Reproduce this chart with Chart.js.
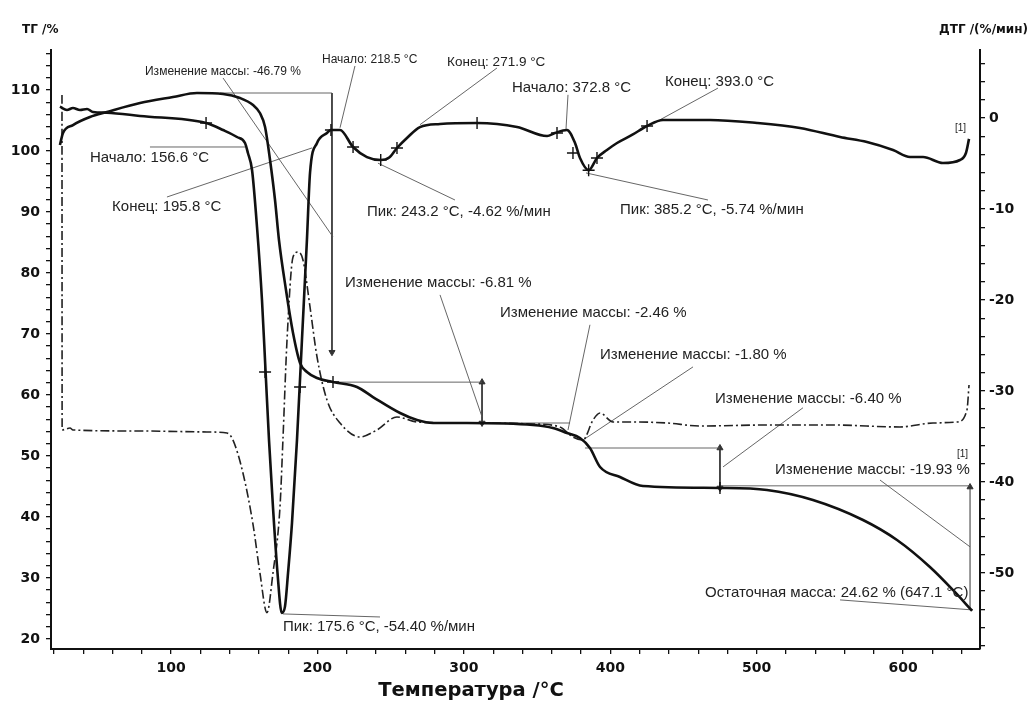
<!DOCTYPE html>
<html lang="ru">
<head>
<meta charset="utf-8">
<title>ТГ / ДТГ</title>
<script src="https://cdn.jsdelivr.net/npm/chart.js@4.4.1/dist/chart.umd.min.js"></script>
<style>
  html, body { margin: 0; padding: 0; background: #fff; }
  #wrap { width: 1031px; height: 702px; }
</style>
</head>
<body>
<div id="wrap"><canvas id="tgChart" width="1031" height="702"></canvas></div>
<script>
// TG curve (left axis, %)
const tgTemp = [24.1, 26.2, 33.0, 44.6, 56.2, 78.8, 101.3, 117.7, 135.5, 147.1, 156.0, 160.7, 164.2, 167.6, 171.0, 173.7, 178.5, 183.3, 188.1, 192.8, 199.7, 210.6, 227.0, 237.9, 256.4, 268.0, 278.9, 302.1, 347.2, 360.8, 370.4, 379.3, 386.1, 393.0, 406.6, 422.3, 474.9, 507.0, 538.4, 572.6, 595.8, 618.3, 634.0, 647.1];
const tgMass = [100.98, 102.94, 104.25, 105.57, 106.39, 107.86, 108.84, 109.5, 109.34, 108.68, 107.53, 106.22, 103.93, 98.52, 91.96, 85.4, 77.2, 70.16, 65.24, 63.77, 62.78, 62.12, 61.3, 59.66, 57.04, 55.89, 55.4, 55.4, 55.07, 54.58, 53.76, 52.94, 51.3, 48.19, 46.55, 45.07, 44.75, 44.42, 42.78, 39.5, 36.22, 31.8, 28.03, 24.62];

// DTG curve (right axis, %/мин)
const dtgTemp = [24.1, 28.9, 33.0, 37.8, 42.6, 46.7, 56.2, 78.8, 123.9, 135.5, 145.0, 150.5, 152.5, 155.3, 158.7, 162.1, 164.5, 166.9, 169.6, 172.7, 175.6, 177.8, 179.9, 182.6, 186.0, 189.4, 192.8, 194.9, 199.7, 206.5, 209.2, 215.4, 224.3, 233.8, 243.2, 249.0, 254.3, 261.1, 270.0, 283.7, 309.0, 336.3, 356.8, 362.2, 370.4, 375.9, 379.3, 385.2, 390.9, 397.7, 404.6, 414.8, 425.1, 436.0, 468.1, 500.2, 529.5, 556.9, 575.3, 593.1, 604.7, 613.6, 627.2, 638.8, 642.9, 645.0];
const dtgRate = [1.24, 0.88, 1.10, 0.88, 0.99, 0.66, 0.58, 0.22, -0.55, -1.32, -2.09, -2.75, -3.85, -5.72, -11.98, -20.0, -27.7, -35.4, -42.75, -50.0, -54.4, -53.7, -50.0, -44.5, -35.4, -24.4, -13.4, -6.05, -2.75, -1.65, -1.32, -1.32, -3.19, -4.3, -4.62, -4.35, -3.3, -2.2, -1.0, -0.66, -0.55, -0.99, -1.98, -1.65, -1.32, -2.75, -4.4, -5.74, -4.4, -3.52, -2.75, -1.87, -0.88, -0.22, -0.22, -0.55, -1.1, -2.09, -2.64, -3.52, -4.29, -4.29, -4.95, -4.62, -3.85, -2.3];

// dash-dot curve (left axis)
const dashTemp = [25.5, 25.6, 31.0, 33.0, 78.8, 124.5, 138.2, 142.3, 149.1, 156.0, 160.7, 165.5, 169.6, 174.4, 176.4, 179.2, 183.3, 186.7, 190.1, 194.9, 199.7, 206.5, 215.4, 229.0, 240.6, 254.3, 268.0, 302.1, 347.2, 365.6, 374.5, 381.3, 388.2, 393.0, 401.8, 415.5, 438.7, 461.2, 507.0, 552.1, 597.8, 620.4, 636.8, 643.6, 645.0];
const dashVal = [109.17, 54.26, 54.58, 54.26, 54.09, 53.93, 53.76, 52.6, 47.2, 38.75, 30.81, 24.3, 30.81, 41.63, 52.6, 69.01, 82.62, 83.43, 82.12, 74.42, 66.22, 59.17, 55.4, 53.11, 54.26, 56.39, 55.57, 55.4, 55.24, 54.75, 53.11, 52.62, 55.89, 57.04, 55.57, 55.57, 55.4, 54.91, 55.07, 55.07, 54.75, 55.4, 55.57, 57.54, 61.63];

// "+" marks
const dtgMarkTemp = [123.9, 209.2, 224.3, 243.2, 254.3, 309.0, 363.6, 374.5, 385.2, 390.9, 425.1];
const dtgMarkRate = [-0.55, -1.32, -3.19, -4.62, -3.3, -0.55, -1.65, -3.85, -5.74, -4.4, -0.88];
const tgMarkTemp = [164.2, 188.1, 210.6, 474.9];
const tgMarkMass = [63.76, 61.3, 62.12, 44.75];

// axis tick labels
const xTickLabels = [100, 200, 300, 400, 500, 600];
const leftTickLabels = [20, 30, 40, 50, 60, 70, 80, 90, 100, 110];
const rightTickLabels = [-50, -40, -30, -20, -10, 0];

// thin leader / construction lines, [t1, m1, t2, m2] in °C and left-axis %
const leaderLines = [
  [133.4, 109.5, 209.9, 109.5],
  [135.5, 111.96, 210.6, 85.9],
  [225.6, 113.93, 215.4, 103.8],
  [322.6, 113.6, 270.0, 104.3],
  [371.1, 109.2, 369.7, 103.4],
  [473.5, 110.3, 433.9, 105.1],
  [293.9, 91.96, 241.3, 98.0],
  [466.7, 91.96, 383.4, 96.4],
  [85.6, 100.65, 150.5, 100.65],
  [97.2, 92.45, 196.3, 100.5],
  [176.4, 24.1, 242.7, 23.6],
  [210.6, 62.1, 312.4, 62.1],
  [283.7, 76.4, 312.4, 56.4],
  [278.9, 55.4, 372.5, 55.4],
  [386.1, 71.5, 371.1, 54.25],
  [456.5, 64.6, 381.3, 52.6],
  [382.7, 51.3, 474.9, 51.3],
  [531.6, 57.9, 477.0, 48.2],
  [474.9, 45.1, 645.7, 45.1],
  [584.2, 46.05, 645.7, 35.1],
  [556.9, 26.4, 647.7, 24.75]
];
// arrows [t, from, to, double]
const arrows = [
  [209.9, 109.5, 67.0, false],
  [312.4, 62.1, 55.4, true],
  [474.9, 51.3, 44.75, true],
  [645.7, 24.9, 44.9, false]
];

// annotation texts [text, t, m, font size]
const notes = [
  ['Изменение массы: -46.79 %', 82.2, 112.94, 12],
  ['Начало: 218.5 °C', 203.1, 114.9, 12],
  ['Конец: 271.9 °C', 288.5, 114.6, 13.5],
  ['Начало: 372.8 °C', 332.8, 110.3, 15],
  ['Конец: 393.0 °C', 437.3, 111.3, 15],
  ['Пик: 243.2 °C, -4.62 %/мин', 233.8, 90.0, 15],
  ['Пик: 385.2 °C, -5.74 %/мин', 406.6, 90.3, 15],
  ['Начало: 156.6 °C', 44.6, 98.85, 15],
  ['Конец: 195.8 °C', 59.7, 90.8, 15],
  ['Изменение массы: -6.81 %', 218.8, 78.35, 15],
  ['Изменение массы: -2.46 %', 324.7, 73.4, 15],
  ['Изменение массы: -1.80 %', 393.0, 66.55, 15],
  ['Изменение массы: -6.40 %', 471.5, 59.3, 15],
  ['Изменение массы: -19.93 %', 512.5, 47.7, 15],
  ['[1]', 636.8, 50.2, 10],
  ['[1]', 635.4, 103.8, 10],
  ['Остаточная масса: 24.62 % (647.1 °C)', 464.7, 27.6, 15],
  ['Пик: 175.6 °C, -54.40 %/мин', 176.4, 21.96, 15]
];

const INK = '#111';
const THIN = '#555';
const tickFont = { family: 'DejaVu Sans', weight: 'bold', size: 14 };

const toPoints = (xs, ys) => xs.map((x, i) => ({ x: x, y: ys[i] }));

function buildDatasets() {
  const sets = [
    {
      data: toPoints(tgTemp, tgMass), yAxisID: 'yL',
      borderColor: INK, borderWidth: 2.6, pointRadius: 0,
      cubicInterpolationMode: 'monotone'
    },
    {
      data: toPoints(dtgTemp, dtgRate), yAxisID: 'yR',
      borderColor: INK, borderWidth: 2.6, pointRadius: 0,
      cubicInterpolationMode: 'monotone'
    },
    {
      data: toPoints(dashTemp, dashVal), yAxisID: 'yL',
      borderColor: '#222', borderWidth: 1.6, borderDash: [9, 3, 2, 3], pointRadius: 0,
      cubicInterpolationMode: 'monotone'
    },
    {
      data: toPoints(dtgMarkTemp, dtgMarkRate), yAxisID: 'yR', showLine: false,
      pointStyle: 'cross', pointRadius: 6, borderColor: INK, borderWidth: 1.4
    },
    {
      data: toPoints(tgMarkTemp, tgMarkMass), yAxisID: 'yL', showLine: false,
      pointStyle: 'cross', pointRadius: 6, borderColor: INK, borderWidth: 1.4
    }
  ];

  leaderLines.forEach(l => {
    sets.push({
      data: [{ x: l[0], y: l[1] }, { x: l[2], y: l[3] }], yAxisID: 'yL',
      borderColor: THIN, borderWidth: 0.9, pointRadius: 0
    });
  });

  arrows.forEach(a => {
    const down = a[2] < a[1];
    sets.push({
      data: [{ x: a[0], y: a[1] }, { x: a[0], y: a[2] }], yAxisID: 'yL',
      borderColor: '#333', backgroundColor: '#333', borderWidth: 1,
      pointStyle: 'triangle',
      pointRadius: a[3] ? [3.5, 3.5] : [0, 3.5],
      pointRotation: down ? [0, 180] : [180, 0]
    });
  });
  return sets;
}

const notesPlugin = {
  id: 'notes',
  afterDatasetsDraw(chart) {
    const { ctx, scales, chartArea } = chart;
    ctx.save();
    ctx.fillStyle = '#222';
    ctx.textBaseline = 'middle';
    ctx.textAlign = 'left';
    notes.forEach(n => {
      ctx.font = n[3] + 'px "Liberation Sans", Arial, sans-serif';
      ctx.fillText(n[0], scales.x.getPixelForValue(n[1]), scales.yL.getPixelForValue(n[2]));
    });

    ctx.fillStyle = INK;
    ctx.font = 'bold 12px "DejaVu Sans"';
    ctx.fillText('ТГ /%', chartArea.left - 29, chartArea.top - 20);
    ctx.textAlign = 'right';
    ctx.fillText('ДТГ /(%/мин)', chartArea.right + 48, chartArea.top - 20);
    ctx.textAlign = 'center';
    ctx.font = 'bold 19.5px "DejaVu Sans"';
    ctx.fillText('Температура /°C', chartArea.left + 420, chartArea.bottom + 42);
    ctx.restore();
  }
};

const axisGrid = { display: true, drawOnChartArea: false, drawTicks: true, tickLength: 5, color: INK, lineWidth: 1.3 };
const axisBorder = { display: true, color: INK, width: 2 };

new Chart(document.getElementById('tgChart'), {
  type: 'line',
  data: { datasets: buildDatasets() },
  options: {
    responsive: false,
    animation: false,
    layout: { padding: { top: 50, left: 0, right: 0, bottom: 0 } },
    plugins: { legend: { display: false }, tooltip: { enabled: false } },
    scales: {
      x: {
        type: 'linear', position: 'bottom', min: 18, max: 652.5,
        ticks: {
          stepSize: 20, autoSkip: false, includeBounds: false, maxRotation: 0,
          padding: 6, color: INK, font: tickFont,
          callback: v => xTickLabels.includes(v) ? v : ''
        },
        grid: axisGrid, border: axisBorder,
        afterFit: s => { s.height = 53; }
      },
      yL: {
        type: 'linear', position: 'left', min: 18.35, max: 116.55,
        ticks: {
          stepSize: 2, autoSkip: false, includeBounds: false,
          padding: 6, color: INK, font: tickFont,
          callback: v => leftTickLabels.includes(v) ? v : ''
        },
        grid: axisGrid, border: axisBorder,
        afterFit: s => { s.width = 51; }
      },
      yR: {
        type: 'linear', position: 'right', min: -58.36, max: 7.47,
        ticks: {
          stepSize: 2, autoSkip: false, includeBounds: false,
          padding: 4, color: INK, font: tickFont,
          callback: v => rightTickLabels.includes(v) ? v : ''
        },
        grid: axisGrid, border: axisBorder,
        afterFit: s => { s.width = 51; }
      }
    }
  },
  plugins: [notesPlugin]
});
</script>
</body>
</html>
